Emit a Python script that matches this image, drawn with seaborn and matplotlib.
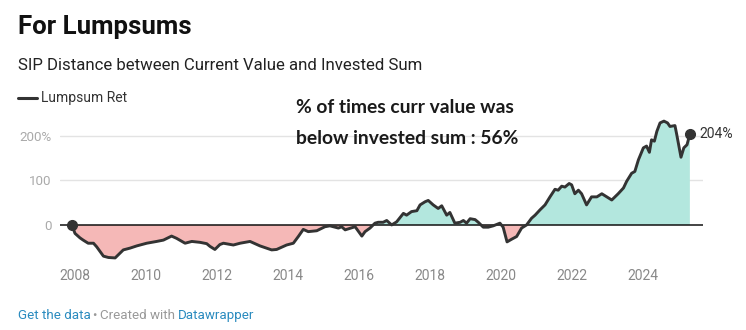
import numpy as np
import pandas as pd
import matplotlib
matplotlib.use("Agg")
import matplotlib.pyplot as plt
from matplotlib.lines import Line2D
import seaborn as sns

# ---- data (decimal year, % return) ----
years = [2007.91, 2008.00, 2008.14, 2008.23, 2008.37, 2008.52, 2008.61, 2008.80, 2008.94,
         2009.13, 2009.27, 2009.36, 2009.55, 2009.74, 2010.02, 2010.30, 2010.49, 2010.72,
         2010.86, 2011.10, 2011.29, 2011.52, 2011.71, 2011.80, 2011.94, 2012.08, 2012.18,
         2012.46, 2012.65, 2012.93, 2013.21, 2013.54, 2013.68, 2013.96, 2014.15, 2014.29,
         2014.43, 2014.57, 2014.81, 2015.04, 2015.18, 2015.42, 2015.51, 2015.61, 2015.89,
         2016.08, 2016.17, 2016.31, 2016.45, 2016.54, 2016.68, 2016.78, 2016.92, 2017.06,
         2017.25, 2017.34, 2017.48, 2017.63, 2017.72, 2017.86, 2017.95, 2018.09, 2018.23,
         2018.33, 2018.47, 2018.56, 2018.70, 2018.85, 2018.94, 2019.03, 2019.13, 2019.27,
         2019.36, 2019.50, 2019.64, 2019.78, 2019.97, 2020.06, 2020.17, 2020.30, 2020.44,
         2020.58, 2020.72, 2020.86, 2020.96, 2021.10, 2021.24, 2021.38, 2021.52, 2021.61,
         2021.71, 2021.80, 2021.92, 2021.99, 2022.08, 2022.18, 2022.27, 2022.41, 2022.55,
         2022.70, 2022.84, 2022.98, 2023.12, 2023.30, 2023.45, 2023.54, 2023.68, 2023.77,
         2023.87, 2024.01, 2024.10, 2024.18, 2024.24, 2024.32, 2024.39, 2024.48, 2024.59,
         2024.69, 2024.76, 2024.90, 2024.95, 2025.07, 2025.15, 2025.24, 2025.32]
lumpsum_ret = [0, -19, -29, -34, -41, -41, -49, -70, -73,
               -74, -63, -56, -52, -47, -41, -37, -34, -25,
               -30, -41, -37, -39, -42, -48, -55, -44, -41,
               -45, -41, -37, -47, -56, -55, -45, -41, -26,
               -10, -15, -13, -4, -2, -7, -4, -11, -4,
               -25, -15, -7, 4, 6, 6, 10, 0, 7,
               26, 22, 30, 32, 45, 52, 55, 45, 37,
               43, 22, 28, 4, 6, 10, 4, 14, 12,
               6, -5, -5, -2, 4, -5, -38, -32, -26,
               -7, 0, 15, 22, 34, 45, 63, 80, 78,
               87, 85, 93, 90, 70, 78, 70, 45, 63,
               63, 70, 63, 56, 70, 83, 98, 116, 120,
               146, 173, 177, 163, 191, 188, 210, 229, 233,
               229, 221, 223, 203, 152, 173, 180, 204]
series_name = "Lumpsum Ret"
x_ticks = [2008, 2010, 2012, 2014, 2016, 2018, 2020, 2022, 2024]
y_ticks = [0, 100, 200]
y_tick_labels = ["0", "100", "200%"]
end_label = "204%"

df = pd.DataFrame({"year": years, "ret": lumpsum_ret})

sns.set_theme(style="white")
plt.rcParams["font.family"] = ["Roboto", "DejaVu Sans"]

W, H = 746, 330
fig = plt.figure(figsize=(W / 100, H / 100), dpi=100)
left, right, top, bottom = 60, 703, 118, 260.6
ax = fig.add_axes([left / W, 1 - bottom / H, (right - left) / W, (bottom - top) / H])

x = df["year"].to_numpy()
y = df["ret"].to_numpy()
ax.fill_between(x, y, 0, where=y >= 0, interpolate=True, color="#b3e7de", lw=0)
ax.fill_between(x, y, 0, where=y <= 0, interpolate=True, color="#f5b8b7", lw=0)

for v in [100, 200]:
    ax.axhline(v, color="#e3e3e3", lw=1, zorder=0)
ax.axhline(0, color="#111111", lw=1.1, zorder=2)

sns.lineplot(data=df, x="year", y="ret", ax=ax, color="#333333", lw=2.1, zorder=3,
             legend=False)
ax.plot([x[0], x[-1]], [y[0], y[-1]], "o", color="#333333", ms=7, zorder=4)
ax.annotate(end_label, (x[-1], y[-1]), xytext=(7, 0), textcoords="offset points",
            va="center", ha="left", fontsize=10, color="#333333")

ax.set_xlim(2007.577, 2025.69)
ax.set_ylim(-80, 240)
ax.set_xticks(x_ticks)
ax.set_xticklabels([str(t) for t in x_ticks])
ax.set_yticks(y_ticks)
ax.set_yticklabels(y_tick_labels)
ax.tick_params(axis="x", length=0, pad=6, labelsize=10, labelcolor="#888888")
ax.tick_params(axis="y", length=0, pad=6, labelsize=9.6, labelcolor="#aaaaaa")
ax.set_xlabel("")
ax.set_ylabel("")
for s in ax.spines.values():
    s.set_visible(False)
ax.patch.set_alpha(0)

# ---- header / legend / annotation / footer ----
fig.text(18 / W, 1 - 34 / H, "For Lumpsums", fontsize=18.6, fontweight="bold",
         color="#111111", va="baseline", ha="left")
fig.text(18 / W, 1 - 70 / H, "SIP Distance between Current Value and Invested Sum",
         fontsize=12.05, color="#222222", va="baseline", ha="left")
fig.add_artist(Line2D([18 / W, 37 / W], [1 - 97.5 / H, 1 - 97.5 / H], color="#333333",
                      lw=2.2, transform=fig.transFigure))
fig.text(41 / W, 1 - 102.5 / H, series_name, fontsize=10, color="#333333",
         va="baseline", ha="left")
fig.text(296 / W, 1 - 113 / H, "% of times curr value was", fontsize=13.9,
         fontweight="bold", color="#1a1a1a", va="baseline", ha="left",
         family=["Lato", "DejaVu Sans"])
fig.text(296 / W, 1 - 144 / H, "below invested sum : 56%", fontsize=13.9,
         fontweight="bold", color="#1a1a1a", va="baseline", ha="left",
         family=["Lato", "DejaVu Sans"])

fy = 1 - 319 / H
fig.text(18 / W, fy, "Get the data", fontsize=9.6, color="#2a8bbf", va="baseline")
fig.text(92.5 / W, fy, "•", fontsize=9.6, color="#999999", va="baseline")
fig.text(100 / W, fy, "Created with", fontsize=9.6, color="#999999", va="baseline")
fig.text(177.5 / W, fy, "Datawrapper", fontsize=9.6, color="#2a8bbf", va="baseline")

fig.savefig("out.png", dpi=100, facecolor="white")
